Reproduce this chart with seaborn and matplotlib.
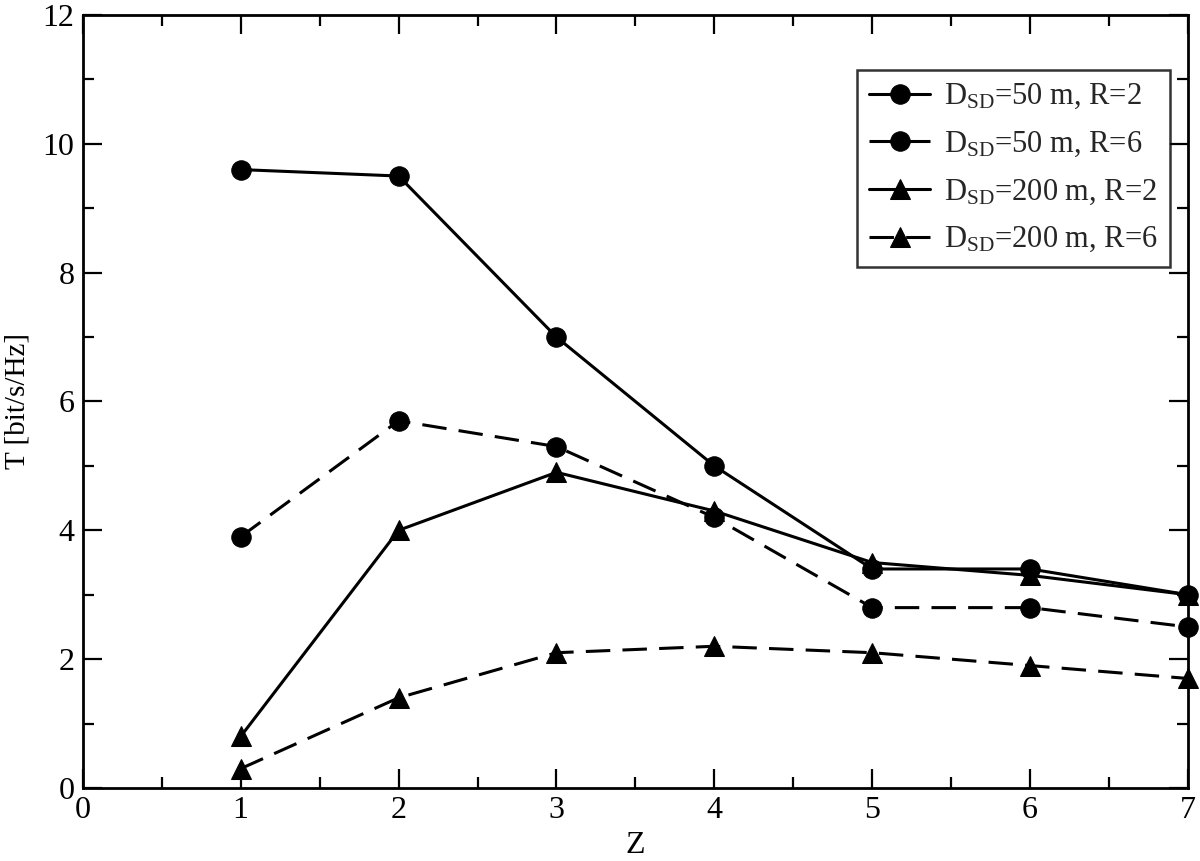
import matplotlib
matplotlib.use("Agg")
import matplotlib.pyplot as plt
import seaborn as sns
import pandas as pd
from matplotlib.ticker import MultipleLocator

z = [1, 2, 3, 4, 5, 6, 7]
t_50_r2 = [9.6, 9.5, 7.0, 5.0, 3.4, 3.4, 3.0]
t_50_r6 = [3.9, 5.7, 5.3, 4.2, 2.8, 2.8, 2.5]
t_200_r2 = [0.8, 4.0, 4.9, 4.3, 3.5, 3.3, 3.0]
t_200_r6 = [0.3, 1.4, 2.1, 2.2, 2.1, 1.9, 1.7]
labels = [r"$\mathrm{D_{SD}}$=50 m, R=2", r"$\mathrm{D_{SD}}$=50 m, R=6",
          r"$\mathrm{D_{SD}}$=200 m, R=2", r"$\mathrm{D_{SD}}$=200 m, R=6"]

sns.set_theme(style="white")
plt.rcParams["font.family"] = ["Liberation Serif", "DejaVu Serif"]
plt.rcParams["mathtext.fontset"] = "custom"
plt.rcParams["mathtext.rm"] = "Liberation Serif"
plt.rcParams["mathtext.it"] = "Liberation Serif:italic"

rows = []
for lab, vals in zip(labels, [t_50_r2, t_50_r6, t_200_r2, t_200_r6]):
    for x, y in zip(z, vals):
        rows.append({"Z": x, "T": y, "series": lab})
df = pd.DataFrame(rows)

fig = plt.figure(figsize=(12, 8.61), dpi=100)
ax = fig.add_axes([0.069, 0.0848, 0.921, 0.8978])

markers = {labels[0]: "o", labels[1]: "o", labels[2]: "^", labels[3]: "^"}
dash_pat = (8, 4)
dashes = {labels[0]: "", labels[1]: dash_pat, labels[2]: "", labels[3]: dash_pat}
sns.lineplot(data=df, x="Z", y="T", style="series", markers=markers, dashes=dashes,
             color="black", linewidth=2.2, markersize=14, markeredgecolor="black",
             ax=ax, legend=True, clip_on=False)

ax.set_xlim(0, 7)
ax.set_ylim(0, 12)
ax.xaxis.set_major_locator(MultipleLocator(1))
ax.xaxis.set_minor_locator(MultipleLocator(0.5))
ax.yaxis.set_major_locator(MultipleLocator(2))
ax.yaxis.set_minor_locator(MultipleLocator(1))
ax.tick_params(which="both", direction="in", top=True, right=True, bottom=True, left=True,
               labelsize=23, color="black", labelcolor="black", pad=6)
ax.tick_params(which="major", length=14, width=1.6)
ax.tick_params(which="minor", length=8, width=1.6)
for s in ax.spines.values():
    s.set_color("black")
    s.set_linewidth(2)
ax.set_xlabel("Z", fontsize=23, color="black", labelpad=4)
ax.set_ylabel("T [bit/s/Hz]", fontsize=21, color="black", labelpad=9)

handles, labs = ax.get_legend_handles_labels()
for h, lab in zip(handles, labs):
    h.set_linewidth(2.2)
    h.set_markersize(14)
    if dashes.get(lab):
        h.set_dashes(dash_pat)
    else:
        h.set_linestyle("-")
leg = ax.legend(handles, labs, loc="upper right", bbox_to_anchor=(0.9837, 0.929),
                fontsize=22, frameon=True, fancybox=False, edgecolor="black",
                handlelength=2.0, handletextpad=0.45, borderpad=0.4, labelspacing=0.6,
                borderaxespad=0)
leg.get_frame().set_linewidth(1.8)

fig.savefig("out.png", dpi=100)
